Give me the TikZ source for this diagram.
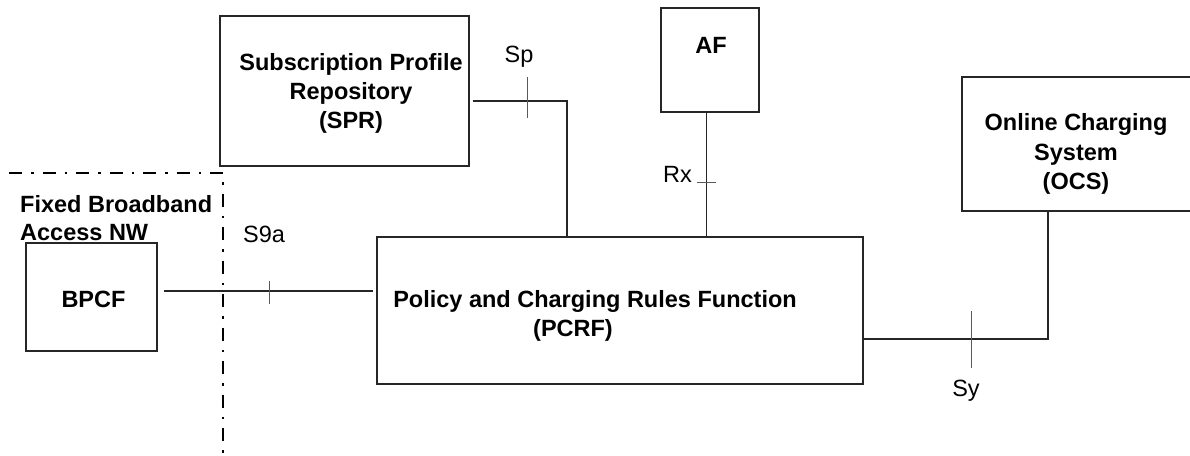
\documentclass[tikz,border=0pt]{standalone}
\usepackage{fontspec}
\setmainfont{Liberation Sans}
\begin{document}
\begin{tikzpicture}[x=1pt,y=-1pt,
  box/.style={draw=black!85, line width=1.4pt, inner sep=0pt},
  conn/.style={draw=black!85, line width=1.1pt},
  tickmark/.style={draw=black!65, line width=0.9pt},
  bt/.style={font=\fontsize{23.5}{29}\selectfont\bfseries, inner sep=0pt, anchor=base},
  rt/.style={font=\fontsize{23.5}{29}\selectfont, inner sep=0pt, anchor=base},
  border/.style={draw=black, line width=2.6pt, dash pattern=on 13pt off 9pt on 2.5pt off 9pt}]
\useasboundingbox (0,0) rectangle (1190,455);
\clip (0,0) rectangle (1190,455);

% boxes
\node[box, minimum width=249pt, minimum height=150pt] (spr) at (344.5,91) {};
\node[box, minimum width=98pt, minimum height=104pt] (af) at (710,60) {};
\node[box, minimum width=486pt, minimum height=147pt] (pcrf) at (620,310.5) {};
\node[box, minimum width=131pt, minimum height=108pt] (bpcf) at (91.5,297) {};
\node[box, minimum width=243pt, minimum height=134pt] (ocs) at (1083.5,144) {};

% box texts
\node[bt] (spr1) at (351,70) {Subscription Profile};
\node[bt] (spr2) at (351,99) {Repository};
\node[bt] (spr3) at (351,128) {(SPR)};
\node[bt] (aft) at (711,53) {AF};
\node[bt] (pcrf1) at (595,307) {Policy and Charging Rules Function};
\node[bt] (pcrf2) at (573,336) {(PCRF)};
\node[bt] (bpcft) at (93.5,307) {BPCF};
\node[bt] (ocs1) at (1076,130) {Online Charging};
\node[bt] (ocs2) at (1076,160) {System};
\node[bt] (ocs3) at (1076,189) {(OCS)};
\node[bt, anchor=base west] (fb1) at (20,212) {Fixed Broadband};
\node[bt, anchor=base west] (fb2) at (20,240) {Access NW};

% connectors
\draw[conn] ([xshift=3pt,yshift=-10pt]spr.east) -| ([xshift=-53pt]pcrf.north);
\draw[conn] ([xshift=-3.5pt]af.south) -- ([xshift=-3.5pt]af.south |- pcrf.north);
\draw[conn] ([xshift=6pt,yshift=6pt]bpcf.east) coordinate (s9) -- ([xshift=-3pt]s9 -| pcrf.west);
\draw[conn] ([yshift=-28.5pt]pcrf.east) -| ([xshift=-35.5pt]ocs.south);

% reference point ticks
\draw[tickmark] (527,77) -- (527,118);
\draw[tickmark] (697,182) -- (716,182);
\draw[tickmark] (269,281) -- (269,304);
\draw[tickmark] (971,311) -- (971,368);

% reference point labels
\node[rt] (lsp) at (519,62) {Sp};
\node[rt] (lrx) at (677.5,182) {Rx};
\node[rt] (ls9a) at (264,242) {S9a};
\node[rt] (lsy) at (966,396) {Sy};

% network border
\draw[border] (9,173) -- (223,173) -- (223,460);
\end{tikzpicture}
\end{document}
